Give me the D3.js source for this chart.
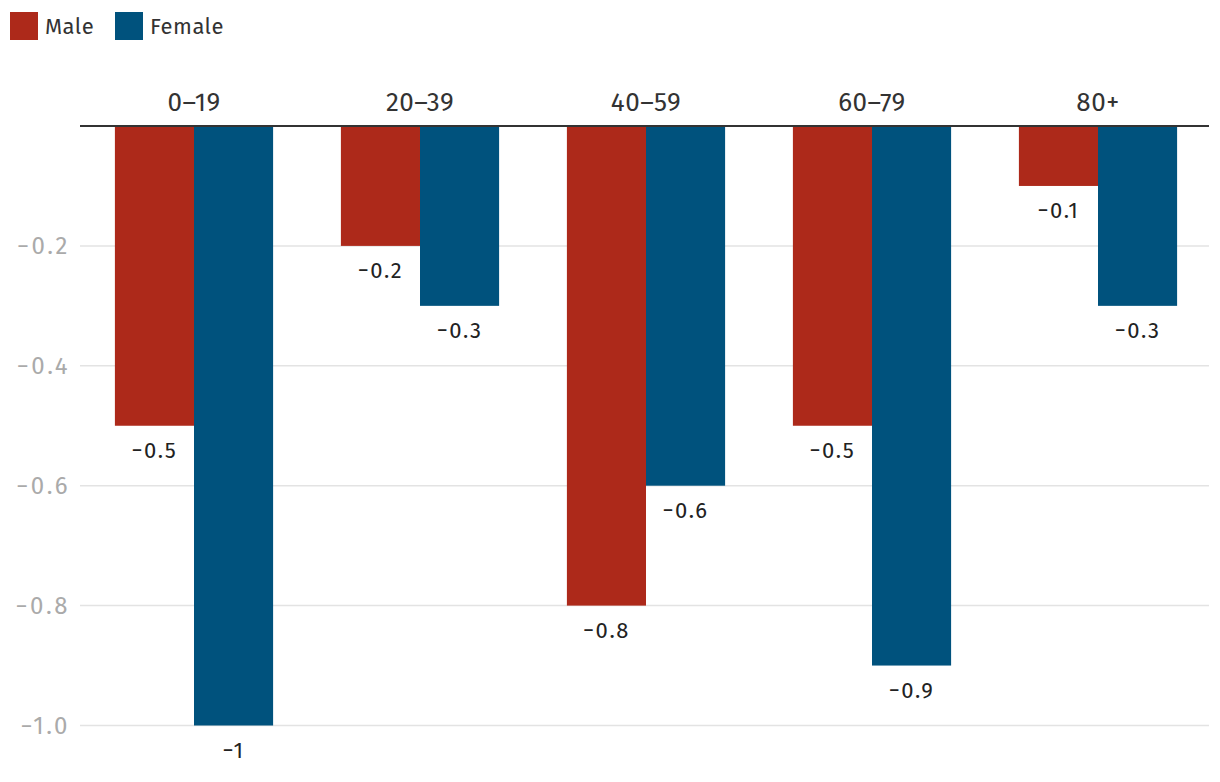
<!DOCTYPE html>
<html><head><meta charset="utf-8">
<script src="https://cdn.jsdelivr.net/npm/d3@7"></script>
<style>body{margin:0;background:#fff}svg{display:block}text{font-family:"Fira Sans","Noto Sans",sans-serif}</style>
</head><body><svg id="c" width="1220" height="782"></svg>
<script>
const categories = ["0–19","20–39","40–59","60–79","80+"];
const seriesNames = ["Male","Female"];
const maleValues = [-0.5,-0.2,-0.8,-0.5,-0.1];
const femaleValues = [-1,-0.3,-0.6,-0.9,-0.3];
const yTicks = [-0.2,-0.4,-0.6,-0.8,-1.0];
const colors = ["#ad291a","#00527d"];

const svg = d3.select("#c");
const mLeft = 81, mRight = 1211, mTop = 126, mBottom = 725.5;
const x = d3.scaleBand().domain(categories).range([mLeft,mRight]).paddingInner(0.3).paddingOuter(0.15);
const xs = d3.scaleBand().domain(seriesNames).range([0,x.bandwidth()]);
const y = d3.scaleLinear().domain([0,-1]).range([mTop,mBottom]);
const fmt = v => String(v).replace("-","−");

// gridlines
svg.append("g").selectAll("line").data(yTicks).join("line")
  .attr("x1",mLeft-1).attr("x2",mRight-2).attr("y1",d=>y(d)).attr("y2",d=>y(d))
  .attr("stroke","#e3e3e3").attr("stroke-width",1.5);
svg.append("g").selectAll("text").data(yTicks).join("text")
  .attr("x",70).attr("y",d=>y(d)).attr("dy","0.35em").attr("text-anchor","end")
  .attr("font-size",24).attr("letter-spacing",2.5).attr("fill","#aaaaaa").text(d=>d3.format(".1f")(d).replace("-","−"));

const data = categories.map((c,i)=>({c, vals:[maleValues[i],femaleValues[i]]}));
const g = svg.append("g").selectAll("g").data(data).join("g")
  .attr("transform",d=>`translate(${x(d.c)},0)`);
g.selectAll("rect").data(d=>d.vals.map((v,j)=>({v,s:seriesNames[j],j}))).join("rect")
  .attr("x",d=>xs(d.s)).attr("width",xs.bandwidth())
  .attr("y",y(0)).attr("height",d=>y(d.v)-y(0)).attr("fill",d=>colors[d.j]);
g.selectAll("text.val").data(d=>d.vals.map((v,j)=>({v,s:seriesNames[j],j}))).join("text")
  .attr("class","val").attr("x",d=>xs(d.s)+xs.bandwidth()/2).attr("y",d=>y(d.v)+32)
  .attr("text-anchor","middle").attr("font-size",22).attr("letter-spacing",1.5).attr("fill","#222").text(d=>fmt(d.v));

// category labels
svg.append("g").selectAll("text").data(categories).join("text")
  .attr("x",d=>x(d)+x.bandwidth()/2).attr("y",111).attr("text-anchor","middle")
  .attr("font-size",26).attr("letter-spacing",0.5).attr("fill","#333").text(d=>d);

// zero line
svg.append("line").attr("x1",mLeft-1).attr("x2",mRight-2).attr("y1",y(0)).attr("y2",y(0))
  .attr("stroke","#333").attr("stroke-width",2);

// legend
const leg = svg.append("g");
const lx = [10,115];
seriesNames.forEach((s,i)=>{
  leg.append("rect").attr("x",lx[i]).attr("y",12).attr("width",28).attr("height",28).attr("fill",colors[i]);
  leg.append("text").attr("x",lx[i]+35).attr("y",26).attr("dy","0.35em").attr("font-size",22).attr("letter-spacing",0.5).attr("fill","#333").text(s);
});
</script></body></html>
